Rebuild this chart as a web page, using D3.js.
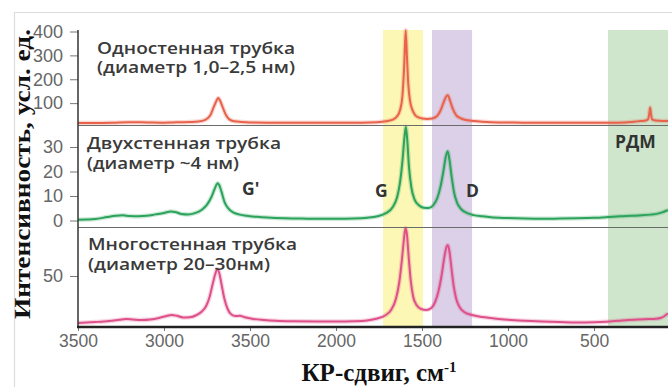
<!DOCTYPE html>
<html>
<head>
<meta charset="utf-8">
<script src="https://cdn.jsdelivr.net/npm/d3@7"></script>
<style>
  html, body { margin: 0; padding: 0; background: #fff; }
  svg { display: block; }
</style>
</head>
<body>
<div id="chart"></div>
<script>
// Raman spectra of carbon nanotubes, three stacked panels

// --- data ---
const xTicks = [3500, 3000, 2500, 2000, 1500, 1000, 500];
const xTickLabels = ["3500", "3000", "3500", "2000", "1500", "1000", "500"];

const topTicks = [100, 200, 300, 400];
const midTicks = [0, 10, 20, 30];
const botTicks = [50];

// highlighted ranges, cm-1
const bands = [
  { name: "G", from: 1727, to: 1494, color: "#fcf7b4" },
  { name: "D", from: 1442, to: 1209, color: "#dccfe8" },
  { name: "RBM", from: 419, to: 70, color: "#cfe6cc" }
];

// single-wall tube, [shift, intensity]
const singleWall = [
  [3500, 17], [3400, 17], [3300, 18], [3200, 20], [3100, 19], [3000, 18], [2950, 19],
  [2900, 20], [2850, 21], [2800, 23], [2760, 30], [2730, 50], [2710, 85], [2695, 110],
  [2685, 121], [2675, 112], [2660, 85], [2640, 50], [2620, 32], [2590, 24], [2550, 21],
  [2500, 19], [2400, 18], [2200, 18], [2000, 18], [1850, 18], [1760, 20], [1710, 24],
  [1670, 31], [1645, 45], [1628, 70], [1614, 130], [1604, 250], [1595, 405], [1588, 300],
  [1580, 180], [1570, 110], [1555, 70], [1540, 50], [1520, 40], [1500, 36], [1470, 34],
  [1440, 36], [1412, 46], [1392, 70], [1376, 100], [1362, 125], [1350, 133], [1338, 112],
  [1322, 78], [1302, 50], [1280, 38], [1250, 30], [1200, 25], [1150, 22], [1100, 20],
  [1000, 19], [900, 18], [700, 18], [500, 18], [400, 18], [320, 19], [270, 22],
  [230, 25], [200, 27], [186, 33], [179, 55], [174, 82], [169, 55], [163, 33],
  [150, 28], [120, 26], [90, 25], [70, 25]
];

// double-wall tube
const doubleWall = [
  [3500, 0.3], [3450, 0.4], [3400, 0.6], [3330, 1.4], [3280, 1.9], [3240, 2.1], [3200, 1.8],
  [3150, 1.7], [3100, 1.9], [3050, 2.5], [3000, 3.1], [2960, 3.7], [2930, 3.4], [2900, 2.7],
  [2860, 2.5], [2820, 3.0], [2780, 4.4], [2750, 6.5], [2725, 9.5], [2708, 12.5], [2695, 14.6],
  [2688, 15.2], [2680, 14.6], [2666, 11.8], [2648, 7.5], [2625, 4.8], [2595, 3.2], [2560, 2.4],
  [2520, 1.9], [2460, 1.5], [2400, 1.2], [2300, 0.9], [2200, 0.8], [2100, 0.7], [2000, 0.7],
  [1900, 0.8], [1820, 1.1], [1760, 1.7], [1710, 3.0], [1670, 5.5], [1645, 9.5], [1628, 15.5],
  [1614, 24], [1602, 34], [1594, 38.3], [1586, 33], [1576, 22], [1562, 13.5], [1543, 8.5],
  [1518, 6.2], [1490, 5.2], [1462, 5.1], [1434, 6.3], [1412, 9], [1392, 14], [1376, 20],
  [1362, 26], [1351, 28.3], [1341, 25], [1328, 18], [1313, 11.2], [1296, 7.2], [1272, 4.6],
  [1240, 3.1], [1200, 2.2], [1150, 1.7], [1100, 1.3], [1000, 1.0], [900, 0.8], [800, 0.7],
  [700, 0.8], [600, 0.9], [500, 1.1], [420, 1.4], [350, 1.7], [280, 1.9], [220, 2.1],
  [170, 2.4], [130, 2.8], [100, 3.4], [80, 4.0], [70, 4.2]
];

// multi-wall tube
const multiWall = [
  [3500, 3], [3450, 3.5], [3400, 4], [3320, 5], [3260, 6.2], [3220, 7], [3180, 6.5],
  [3130, 6], [3080, 6.5], [3030, 8], [2990, 9.8], [2955, 11], [2925, 10.2], [2890, 8.6],
  [2850, 8.8], [2810, 11], [2780, 14.5], [2755, 20], [2735, 29], [2717, 42], [2702, 52],
  [2690, 57], [2679, 53], [2666, 42], [2650, 28], [2630, 17], [2608, 11.5], [2585, 10],
  [2560, 10.2], [2530, 8.8], [2480, 7], [2420, 6], [2350, 5.2], [2250, 4.7], [2100, 4.5],
  [2000, 4.5], [1900, 4.8], [1820, 5.6], [1760, 7.5], [1715, 10.5], [1680, 16], [1652, 27],
  [1632, 44], [1617, 66], [1605, 87], [1596, 98], [1588, 92], [1578, 70], [1566, 46],
  [1551, 29], [1532, 21], [1505, 17], [1475, 16], [1446, 18], [1424, 24], [1404, 35],
  [1386, 51], [1370, 69], [1358, 79], [1350, 81], [1341, 75], [1329, 58], [1316, 40],
  [1301, 27], [1282, 19], [1255, 14], [1210, 11], [1150, 9], [1080, 7.5], [1000, 6.2],
  [900, 5.2], [800, 4.5], [700, 4], [600, 3.6], [500, 3.8], [430, 4.3], [360, 5.2],
  [300, 6], [240, 6.6], [180, 6.9], [140, 7.2], [110, 8.2], [90, 10], [75, 12], [70, 12.5]
];

const panelTitles = [
  ["Одностенная трубка", "(диаметр 1,0–2,5 нм)"],
  ["Двухстенная трубка", "(диаметр ~4 нм)"],
  ["Многостенная трубка", "(диаметр 20–30нм)"]
];

// --- layout ---
const W = 672, H = 387;
const plot = { left: 78, right: 668, top: 30, bottom: 327 };
const sep1 = 125.5, sep2 = 227.5;

const svg = d3.select("#chart").append("svg")
  .attr("width", W)
  .attr("height", H)
  .style("font-family", "'Open Sans', 'Noto Sans', sans-serif");

// light outer frame (top and left only)
svg.append("path")
  .attr("d", `M14.5,${H}V12.5H${W}`)
  .attr("fill", "none")
  .attr("stroke", "#dcdcdc")
  .attr("stroke-width", 1.2);

const x = d3.scaleLinear().domain([3500, 70]).range([plot.left, plot.right]);
const yTop = d3.scaleLinear().domain([0, 400]).range([127, 31.5]);
const yMid = d3.scaleLinear().domain([0, 30]).range([220.5, 147]);
const yBot = d3.scaleLinear().domain([0, 50]).range([326, 276]);

// bands
svg.append("g")
  .selectAll("rect")
  .data(bands)
  .join("rect")
    .attr("x", d => x(d.from))
    .attr("width", d => x(d.to) - x(d.from))
    .attr("y", plot.top)
    .attr("height", plot.bottom - plot.top)
    .attr("fill", d => d.color);

// spectra
svg.append("defs").append("clipPath").attr("id", "clip")
  .append("rect")
    .attr("x", plot.left).attr("y", plot.top - 2)
    .attr("width", plot.right - plot.left).attr("height", plot.bottom - plot.top + 2);

const series = [
  { data: singleWall, y: yTop, color: "#e8624c" },
  { data: doubleWall, y: yMid, color: "#2ba35b" },
  { data: multiWall, y: yBot, color: "#de5089" }
];

const lines = svg.append("g").attr("clip-path", "url(#clip)");
for (const s of series) {
  const line = d3.line()
    .x(d => x(d[0]))
    .y(d => s.y(d[1]))
    .curve(d3.curveMonotoneX);
  // soft halo to imitate the blurry scan
  lines.append("path")
    .attr("d", line(s.data))
    .attr("fill", "none")
    .attr("stroke", s.color)
    .attr("stroke-opacity", 0.25)
    .attr("stroke-width", 4.5);
  lines.append("path")
    .attr("d", line(s.data))
    .attr("fill", "none")
    .attr("stroke", s.color)
    .attr("stroke-width", 2)
    .attr("stroke-linejoin", "round");
}

// panel separators
svg.append("g")
  .selectAll("line")
  .data([sep1, sep2])
  .join("line")
    .attr("x1", plot.left).attr("x2", plot.right)
    .attr("y1", d => d).attr("y2", d => d)
    .attr("stroke", "#6b6b6b")
    .attr("stroke-width", 1);

// y axes, one per panel
function styleY(ax) {
  ax.select(".domain").remove();
  ax.selectAll(".tick line").attr("stroke", "#777");
  ax.selectAll(".tick text")
    .attr("fill", "#666")
    .attr("font-size", 18)
    .attr("x", -15);
}
[[yTop, topTicks], [yMid, midTicks], [yBot, botTicks]].forEach(([scale, ticks]) => {
  svg.append("g")
    .attr("transform", `translate(${plot.left},0)`)
    .call(d3.axisLeft(scale).tickValues(ticks).tickSize(8).tickFormat(d3.format("d")))
    .call(styleY);
});

svg.append("line")
  .attr("x1", plot.left).attr("x2", plot.left)
  .attr("y1", plot.top).attr("y2", plot.bottom)
  .attr("stroke", "#333")
  .attr("stroke-width", 1.5);

// x axis
svg.append("g")
  .attr("transform", `translate(0,${plot.bottom})`)
  .call(d3.axisBottom(x).tickValues(xTicks).tickSize(4).tickFormat((d, i) => xTickLabels[i]))
  .call(ax => ax.select(".domain").remove())
  .call(ax => ax.selectAll(".tick line").attr("stroke", "#777"))
  .call(ax => ax.selectAll(".tick text")
    .attr("fill", "#666")
    .attr("font-size", 17.5)
    .attr("y", 8));

svg.append("line")
  .attr("x1", plot.left - 1).attr("x2", plot.right)
  .attr("y1", plot.bottom).attr("y2", plot.bottom)
  .attr("stroke", "#222")
  .attr("stroke-width", 2.5);

// panel titles (widths matched to the scan, which is slightly stretched)
const titlePos = [[97, 53.5], [87, 149], [88, 250]];
const titleWidths = [[198, 198], [194, 152], [209, 182]];
panelTitles.forEach((pair, i) => {
  const [tx, ty] = titlePos[i];
  pair.forEach((s, j) => {
    svg.append("text")
      .attr("x", tx).attr("y", ty + j * 19.5)
      .attr("fill", "#3a3a3a")
      .attr("font-size", 16.5)
      .attr("font-weight", 600)
      .attr("textLength", titleWidths[i][j])
      .attr("lengthAdjust", "spacingAndGlyphs")
      .text(s);
  });
});

// peak labels
const peakLabels = [
  { text: "G'", x: 242, y: 195 },
  { text: "G", x: 375, y: 197 },
  { text: "D", x: 466, y: 197 },
  { text: "РДМ", x: 615, y: 148 }
];
svg.append("g")
  .selectAll("text")
  .data(peakLabels)
  .join("text")
    .attr("x", d => d.x).attr("y", d => d.y)
    .attr("fill", "#333")
    .attr("font-size", 17.5)
    .attr("font-weight", 700)
    .text(d => d.text);

// axis titles
svg.append("text")
  .attr("transform", "translate(30,174) rotate(-90)")
  .attr("text-anchor", "middle")
  .attr("font-family", "'Liberation Serif', 'Times New Roman', serif")
  .attr("font-weight", 700)
  .attr("font-size", 23)
  .attr("fill", "#111")
  .attr("textLength", 290)
  .attr("lengthAdjust", "spacingAndGlyphs")
  .text("Интенсивность, усл. ед.");

const xt = svg.append("text")
  .attr("x", 379).attr("y", 381)
  .attr("text-anchor", "middle")
  .attr("font-family", "'Liberation Serif', 'Times New Roman', serif")
  .attr("font-weight", 700)
  .attr("font-size", 25)
  .attr("fill", "#111");
xt.append("tspan").text("КР-сдвиг, см");
xt.append("tspan").attr("dy", -9).attr("font-size", 15).text("-1");
</script>
</body>
</html>
